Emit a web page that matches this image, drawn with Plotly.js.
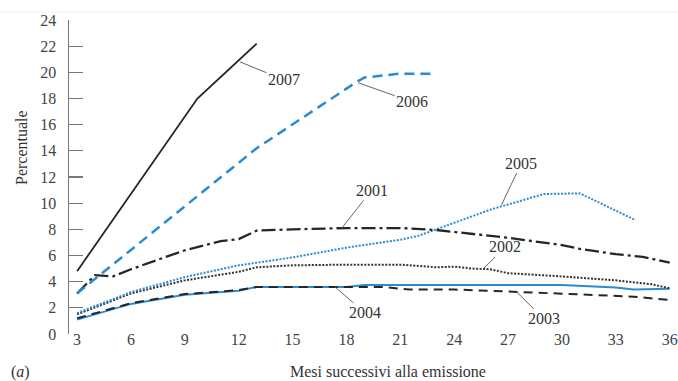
<!DOCTYPE html>
<html>
<head>
<meta charset="utf-8">
<script src="https://cdn.plot.ly/plotly-3.0.1.min.js"></script>
<style>html,body{margin:0;padding:0;background:#fff;}#chart{width:678px;height:381px;}</style>
</head>
<body>
<div id="chart"></div>
<script>
// Months after issue (x) and percentage (y)
const x2007 = [3, 9.7, 13];
const y2007 = [4.8, 18.0, 22.2];

const x2006 = [3, 13, 18.6, 19, 21, 23];
const y2006 = [3.1, 14.2, 19.3, 19.6, 19.9, 19.9];

const x2005 = [3, 6, 9, 12, 15, 17, 18, 21, 22, 24, 26, 27, 28, 29, 31, 34.1];
const y2005 = [1.6, 3.2, 4.35, 5.25, 5.85, 6.35, 6.6, 7.2, 7.5, 8.5, 9.5, 9.9, 10.3, 10.7, 10.75, 8.7];

const x2001 = [3, 4, 5, 6, 9, 11, 12, 13, 15, 18, 21, 23, 24, 27, 30, 31, 33, 34.5, 36];
const y2001 = [3.1, 4.5, 4.4, 4.95, 6.4, 7.1, 7.25, 7.9, 8.0, 8.1, 8.1, 7.95, 7.8, 7.35, 6.8, 6.5, 6.1, 5.9, 5.45];

const x2002 = [3, 6, 9, 12, 13, 15, 18, 21, 22, 23, 24, 25, 26, 27, 30, 33, 35, 36];
const y2002 = [1.5, 3.1, 4.1, 4.75, 5.1, 5.25, 5.3, 5.3, 5.2, 5.1, 5.15, 5.0, 4.95, 4.65, 4.4, 4.1, 3.8, 3.5];

const x2004 = [3, 6, 9, 12, 13, 15, 18, 19, 24, 30, 33, 34, 36];
const y2004 = [1.1, 2.3, 3.0, 3.3, 3.6, 3.6, 3.6, 3.75, 3.75, 3.75, 3.55, 3.4, 3.45];

const x2003 = [3, 6, 9, 12, 13, 18, 20, 21.5, 24, 27, 30, 32, 34, 36];
const y2003 = [1.2, 2.35, 3.05, 3.35, 3.6, 3.6, 3.6, 3.4, 3.4, 3.25, 3.1, 3.0, 2.85, 2.6];

const xTicks = [3, 6, 9, 12, 15, 18, 21, 24, 27, 30, 33, 36];
const yTicks = [0, 2, 4, 6, 8, 10, 12, 14, 16, 18, 20, 22, 24];

// Label anchors: [label, x on line, y on line, text offset px x, px y]
const labelNames = ['2007', '2006', '2005', '2001', '2002', '2004', '2003'];
const labelX = [12.07, 18.65, 26.63, 17.73, 25.61, 17.36, 27.47];
const labelY = [20.8, 19.2, 9.86, 8.08, 4.97, 3.6, 3.23];
const labelAX = [44, 54, 20, 30, 22, 30, 27];
const labelAY = [18, 19, -42, -38, -22, 26, 27];

const BLUE = '#2a8bd5';
const BLACK = '#262626';
const FONT = 'Liberation Serif, DejaVu Serif, serif';
const XRANGE = [2.55, 36.35];

function tr(x, y, color, width, dash, name) {
  return {x: x, y: y, type: 'scatter', mode: 'lines', name: name,
    line: {color: color, width: width, dash: dash, shape: 'linear'},
    hoverinfo: 'skip'};
}

const data = [
  tr(x2004, y2004, BLUE, 2, 'solid', '2004'),
  tr(x2003, y2003, BLACK, 2, '9px,6px', '2003'),
  tr(x2002, y2002, '#333', 2, '2px,1.5px', '2002'),
  tr(x2005, y2005, BLUE, 2, '2px,1.5px', '2005'),
  tr(x2001, y2001, BLACK, 2.3, '14px,4px,3px,4px', '2001'),
  tr(x2006, y2006, BLUE, 2.5, '10px,6px', '2006'),
  tr(x2007, y2007, BLACK, 1.8, 'solid', '2007')
];

// plotting area: top 20, bottom 340 (320 px); y axis occupies 20..334
const H = 320;
const yb = 6 / H;           // domain bottom of y axis (pixel 334)
function py(p) { return (340 - p) / H; }   // pixel -> paper y
function px(p) { return (p - 69) / 607; }  // pixel -> paper x

const annotations = labelNames.map((t, i) => ({
  x: labelX[i], y: labelY[i], xref: 'x', yref: 'y',
  text: t, showarrow: true, arrowhead: 0, arrowwidth: 1, arrowcolor: '#666',
  ax: labelAX[i], ay: labelAY[i], axref: 'pixel', ayref: 'pixel',
  font: {family: FONT, size: 16, color: '#333'}, borderpad: 1
}));

annotations.push({
  xref: 'paper', yref: 'paper', x: px(388), y: py(371.5),
  xanchor: 'center', yanchor: 'middle', showarrow: false,
  text: 'Mesi successivi alla emissione',
  font: {family: FONT, size: 16, color: '#333'}
});
annotations.push({
  xref: 'paper', yref: 'paper', x: px(21), y: py(148),
  xanchor: 'center', yanchor: 'middle', showarrow: false, textangle: -90,
  text: 'Percentuale',
  font: {family: FONT, size: 16, color: '#333'}
});
annotations.push({
  xref: 'paper', yref: 'paper', x: px(20), y: py(371.5),
  xanchor: 'center', yanchor: 'middle', showarrow: false,
  text: '(<i>a</i>)',
  font: {family: FONT, size: 16, color: '#333'}
});

const layout = {
  width: 678, height: 381,
  margin: {l: 69, r: 2, t: 20, b: 41},
  paper_bgcolor: '#fff', plot_bgcolor: '#fff',
  showlegend: false,
  font: {family: FONT, size: 16, color: '#444'},
  xaxis: {
    range: XRANGE, showgrid: false, zeroline: false, showline: false,
    anchor: 'free', position: py(328),
    tickmode: 'array', tickvals: xTicks, ticktext: xTicks.map(String),
    ticks: '',
    tickfont: {family: FONT, size: 16, color: '#444'},
    fixedrange: true
  },
  xaxis2: {
    range: XRANGE, overlaying: 'x', anchor: 'y', side: 'bottom',
    showgrid: false, zeroline: false, showticklabels: false,
    showline: true, linecolor: '#777', linewidth: 1.5,
    tickmode: 'array', tickvals: [], ticks: '',
    minor: {ticks: 'inside', tick0: 3.5, dtick: 1, ticklen: 11, tickcolor: '#777', tickwidth: 1.2, showgrid: false},
    fixedrange: true
  },
  yaxis: {
    range: [0, 24], domain: [yb, 1], showgrid: false, zeroline: false,
    showline: true, linecolor: '#777', linewidth: 1.5,
    tickmode: 'array', tickvals: yTicks, ticktext: yTicks.map(String),
    ticks: 'inside', ticklen: 14, tickcolor: '#777', tickwidth: 1.2,
    ticklabelstandoff: 8,
    tickfont: {family: FONT, size: 16, color: '#444'},
    fixedrange: true
  },
  shapes: [{type: 'line', xref: 'paper', yref: 'paper', x0: px(0), x1: px(678), y0: py(12), y1: py(12),
            line: {color: '#f0f0f0', width: 1}}],
  annotations: annotations
};

Plotly.newPlot('chart', data, layout, {staticPlot: true, displayModeBar: false});
</script>
</body>
</html>
